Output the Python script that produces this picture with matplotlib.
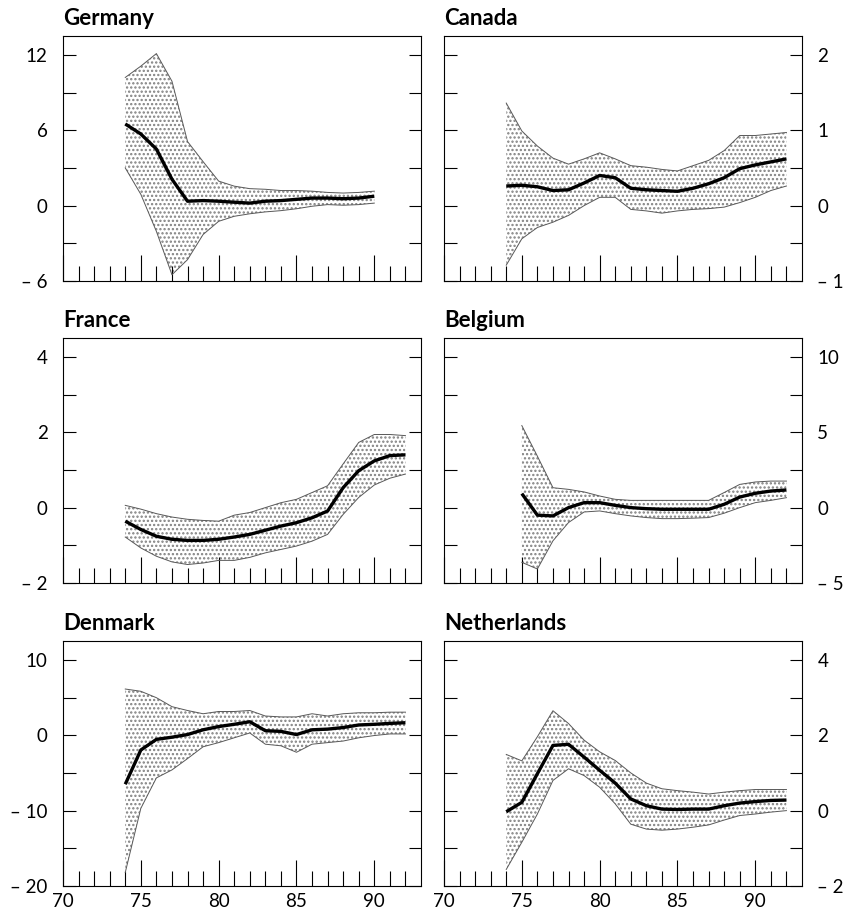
import matplotlib
matplotlib.use("Agg")
import matplotlib.pyplot as plt
from matplotlib.ticker import MultipleLocator, FuncFormatter

plt.rcParams['font.family'] = ['Lato', 'DejaVu Sans']
plt.rcParams['hatch.linewidth'] = 1.1

# ---- data ----
ger_years = list(range(74, 91))
ger_mid = [6.5, 5.7, 4.5, 2.1, 0.35, 0.4, 0.35, 0.27, 0.2, 0.35, 0.4, 0.5, 0.6, 0.6, 0.55, 0.6, 0.75]
ger_hi = [10.2, 11.1, 12.1, 9.9, 5.1, 3.5, 1.95, 1.55, 1.35, 1.3, 1.2, 1.2, 1.15, 1.05, 1.0, 1.05, 1.15]
ger_lo = [3.0, 0.9, -2.05, -5.5, -4.3, -2.3, -1.25, -0.85, -0.65, -0.5, -0.4, -0.25, -0.05, 0.08, 0.03, 0.08, 0.2]

can_years = list(range(74, 93))
can_mid = [0.26, 0.27, 0.25, 0.2, 0.21, 0.3, 0.4, 0.37, 0.23, 0.21, 0.2, 0.19, 0.23, 0.29, 0.37, 0.49, 0.54, 0.58, 0.62]
can_hi = [1.36, 0.99, 0.79, 0.63, 0.55, 0.62, 0.7, 0.62, 0.53, 0.51, 0.48, 0.46, 0.53, 0.6, 0.73, 0.93, 0.93, 0.95, 0.97]
can_lo = [-0.79, -0.44, -0.29, -0.22, -0.13, 0.0, 0.11, 0.11, -0.05, -0.07, -0.1, -0.07, -0.05, -0.04, -0.02, 0.04, 0.11, 0.2, 0.26]

fra_years = list(range(74, 93))
fra_mid = [-0.36, -0.58, -0.76, -0.84, -0.87, -0.87, -0.84, -0.78, -0.71, -0.6, -0.49, -0.4, -0.27, -0.09, 0.53, 0.98, 1.24, 1.38, 1.4]
fra_hi = [0.06, -0.04, -0.16, -0.25, -0.31, -0.34, -0.36, -0.2, -0.13, 0.0, 0.13, 0.22, 0.4, 0.58, 1.16, 1.73, 1.94, 1.94, 1.91]
fra_lo = [-0.78, -1.07, -1.29, -1.44, -1.51, -1.47, -1.4, -1.4, -1.32, -1.2, -1.11, -1.02, -0.89, -0.71, -0.18, 0.27, 0.6, 0.78, 0.89]

bel_years = list(range(75, 93))
bel_mid = [0.93, -0.5, -0.55, 0.0, 0.33, 0.33, 0.15, 0.0, -0.07, -0.11, -0.11, -0.11, -0.11, 0.22, 0.7, 0.95, 1.1, 1.17]
bel_hi = [5.44, 3.41, 1.32, 1.21, 1.04, 0.77, 0.55, 0.48, 0.48, 0.48, 0.48, 0.48, 0.48, 1.0, 1.54, 1.7, 1.76, 1.76]
bel_lo = [-3.63, -4.07, -2.2, -0.99, -0.29, -0.22, -0.4, -0.55, -0.66, -0.73, -0.73, -0.7, -0.66, -0.37, 0.0, 0.33, 0.48, 0.66]

den_years = list(range(74, 93))
den_mid = [-6.5, -1.96, -0.55, -0.26, 0.09, 0.72, 1.15, 1.45, 1.79, 0.6, 0.51, 0.09, 0.72, 0.81, 1.02, 1.36, 1.45, 1.57, 1.66]
den_hi = [6.13, 5.83, 4.98, 3.79, 3.28, 2.85, 3.15, 3.15, 3.28, 2.55, 2.43, 2.43, 2.85, 2.55, 2.85, 2.98, 2.98, 3.06, 3.06]
den_lo = [-18.2, -9.7, -5.66, -4.6, -3.1, -1.53, -0.98, -0.34, 0.3, -1.19, -1.4, -2.26, -1.19, -0.98, -0.77, -0.34, -0.04, 0.17, 0.17]

net_years = list(range(74, 93))
net_mid = [-0.03, 0.22, 0.98, 1.73, 1.76, 1.42, 1.07, 0.73, 0.31, 0.13, 0.04, 0.03, 0.04, 0.04, 0.13, 0.2, 0.24, 0.27, 0.28]
net_hi = [1.49, 1.32, 1.96, 2.65, 2.31, 1.87, 1.56, 1.33, 1.0, 0.73, 0.58, 0.53, 0.49, 0.44, 0.49, 0.53, 0.56, 0.56, 0.56]
net_lo = [-1.56, -0.84, -0.09, 0.8, 1.11, 0.93, 0.62, 0.18, -0.36, -0.49, -0.52, -0.49, -0.44, -0.38, -0.25, -0.13, -0.09, -0.04, 0.0]

# (title, years, mid, hi, lo, ymin, labelled step, tick step)
panels = [
    ("Germany", ger_years, ger_mid, ger_hi, ger_lo, -6, 6, 3),
    ("Canada", can_years, can_mid, can_hi, can_lo, -1, 1, 0.5),
    ("France", fra_years, fra_mid, fra_hi, fra_lo, -2, 2, 1),
    ("Belgium", bel_years, bel_mid, bel_hi, bel_lo, -5, 5, 2.5),
    ("Denmark", den_years, den_mid, den_hi, den_lo, -20, 10, 5),
    ("Netherlands", net_years, net_mid, net_hi, net_lo, -2, 2, 1),
]


def fmt(v, pos=None):
    v = round(v, 6)
    s = f"{abs(v):g}"
    return "\u2013 " + s if v < 0 else s


W, H = 849, 914
fig = plt.figure(figsize=(W / 100, H / 100), dpi=100)
lefts = [63, 444]
tops = [36, 338, 641]
aw, ah = 358, 245

for i, (title, yrs, mid, hi, lo, ymin, step, tstep) in enumerate(panels):
    row, col = divmod(i, 2)
    ax = fig.add_axes([lefts[col] / W, 1 - (tops[row] + ah) / H, aw / W, ah / H])

    # stippled confidence band
    ax.fill_between(yrs, lo, hi, facecolor="white", edgecolor="0.5",
                    hatch="....", linewidth=0)
    ax.plot(yrs, hi, color="0.35", lw=0.7)
    ax.plot(yrs, lo, color="0.35", lw=0.7)
    ax.plot(yrs, mid, color="black", lw=2.4, solid_capstyle="butt")

    ax.set_xlim(70, 93)
    ax.set_ylim(ymin, ymin + 3.25 * step)

    ax.set_xticks([70, 75, 80, 85, 90])
    ax.set_xticks(range(71, 93), minor=True)
    ax.yaxis.set_major_locator(MultipleLocator(step))
    ax.yaxis.set_minor_locator(MultipleLocator(tstep))
    ax.yaxis.set_major_formatter(FuncFormatter(fmt))

    ax.tick_params(axis="x", which="major", direction="in", length=19, width=0.8,
                   top=False, labelsize=13.5, pad=5, labelbottom=(row == 2))
    ax.tick_params(axis="x", which="minor", direction="in", length=11, width=0.8, top=False)
    ax.tick_params(axis="y", which="both", direction="in", length=9, width=0.8,
                   left=True, right=True, labelsize=13.5, pad=11,
                   labelleft=(col == 0), labelright=(col == 1))

    for sp in ax.spines.values():
        sp.set_linewidth(0.8)

    ax.annotate(title, xy=(0, 1), xycoords="axes fraction", xytext=(0, 8),
                textcoords="offset points", ha="left", va="baseline",
                fontsize=16, fontweight="bold")

fig.savefig("out.png", dpi=100)
